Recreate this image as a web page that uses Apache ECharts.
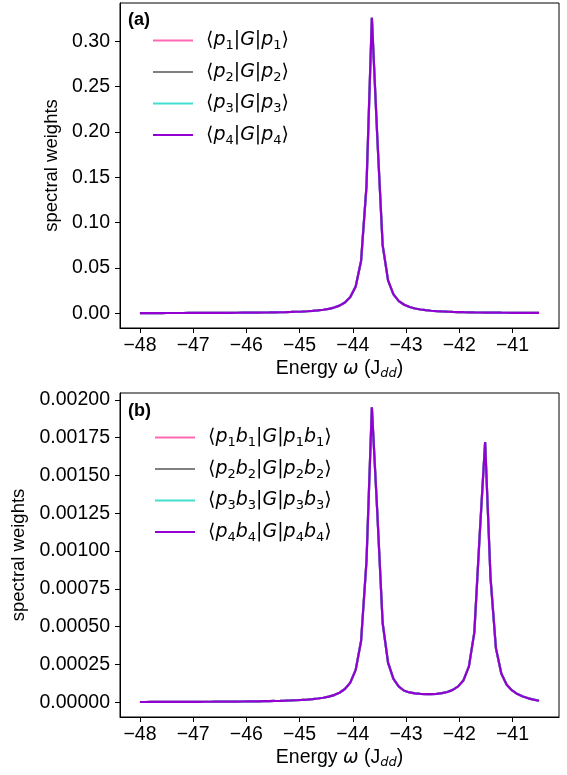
<!DOCTYPE html>
<html>
<head>
<meta charset="utf-8">
<script src="https://cdn.jsdelivr.net/npm/echarts@6/dist/echarts.min.js"></script>
<style>
html, body { margin: 0; padding: 0; background: #fff; }
#main { width: 567px; height: 775px; }
</style>
</head>
<body>
<div id="main"></div>
<script>
// energy grid (J_dd)
var energy = [
  -48.0000, -47.8986, -47.7973, -47.6959, -47.5946, -47.4932, -47.3919, -47.2905, -47.1892, -47.0878,
  -46.9865, -46.8851, -46.7838, -46.6824, -46.5811, -46.4797, -46.3784, -46.2770, -46.1757, -46.0743,
  -45.9730, -45.8716, -45.7703, -45.6689, -45.5676, -45.4662, -45.3649, -45.2635, -45.1622, -45.0608,
  -44.9595, -44.8581, -44.7568, -44.6554, -44.5541, -44.4527, -44.3514, -44.2500, -44.1486, -44.0473,
  -43.9459, -43.8446, -43.7432, -43.6419, -43.5405, -43.4392, -43.3378, -43.2365, -43.1351, -43.0338,
  -42.9324, -42.8311, -42.7297, -42.6284, -42.5270, -42.4257, -42.3243, -42.2230, -42.1216, -42.0203,
  -41.9189, -41.8176, -41.7162, -41.6149, -41.5135, -41.4122, -41.3108, -41.2095, -41.1081, -41.0068,
  -40.9054, -40.8041, -40.7027, -40.6014, -40.5000
];
// panel (a): <p|G|p>
var weightsA = [
  0.000175, 0.000183, 0.000192, 0.000202, 0.000212, 0.000224, 0.000236, 0.000249, 0.000264, 0.000279,
  0.000296, 0.000315, 0.000336, 0.000358, 0.000383, 0.000411, 0.000441, 0.000476, 0.000514, 0.000558,
  0.000607, 0.000662, 0.000726, 0.000800, 0.000885, 0.000985, 0.00110, 0.00124, 0.00141, 0.00162,
  0.00187, 0.00219, 0.00260, 0.00313, 0.00383, 0.00482, 0.00623, 0.00836, 0.0118, 0.0178,
  0.0296, 0.0577, 0.140, 0.326, 0.195, 0.0752, 0.0362, 0.0208, 0.0134, 0.00932,
  0.00685, 0.00523, 0.00413, 0.00334, 0.00276, 0.00231, 0.00197, 0.00170, 0.00148, 0.00130,
  0.00115, 0.00102, 0.000917, 0.000827, 0.000750, 0.000683, 0.000624, 0.000573, 0.000528, 0.000488,
  0.000452, 0.000420, 0.000392, 0.000366, 0.000343
];
// panel (b): <pb|G|pb>
var weightsB = [
  0.00000177, 0.00000185, 0.00000193, 0.00000202, 0.00000211, 0.00000221, 0.00000232, 0.00000244, 0.00000256, 0.00000270,
  0.00000285, 0.00000301, 0.00000319, 0.00000338, 0.00000359, 0.00000383, 0.00000409, 0.00000437, 0.00000469, 0.00000505,
  0.00000545, 0.00000590, 0.00000642, 0.00000701, 0.00000768, 0.00000847, 0.00000939, 0.0000105, 0.0000118, 0.0000134,
  0.0000153, 0.0000177, 0.0000207, 0.0000247, 0.0000299, 0.0000371, 0.0000474, 0.0000628, 0.0000875, 0.000130,
  0.000214, 0.000405, 0.000931, 0.00195, 0.00126, 0.000524, 0.000262, 0.000155, 0.000104, 0.0000761,
  0.0000650, 0.0000590, 0.0000560, 0.0000540, 0.0000540, 0.0000560, 0.0000600, 0.0000680, 0.0000820, 0.000105,
  0.000146, 0.000237, 0.000462, 0.00111, 0.00172, 0.000824, 0.000358, 0.000190, 0.000116, 0.0000781,
  0.0000540, 0.0000380, 0.0000260, 0.0000170, 0.0000100
];
var xTicks = [-48, -47, -46, -45, -44, -43, -42, -41];
var yTicksA = [0, 0.05, 0.10, 0.15, 0.20, 0.25, 0.30];
var yTicksB = [0, 0.00025, 0.0005, 0.00075, 0.001, 0.00125, 0.0015, 0.00175, 0.002];
var namesA = ['p1', 'p2', 'p3', 'p4'];
var namesB = ['p1b1', 'p2b2', 'p3b3', 'p4b4'];
var colors = ['#ff69b4', '#808080', '#40e0d0', '#9400d3'];

var tickFont = 'Liberation Sans, Arial, sans-serif';

function pairs(ys) {
  return energy.map(function (x, i) { return [x, ys[i]]; });
}

function legendLabel(name) {
  var k = name.charAt(1);
  if (name.length > 2) {
    return '{t|⟨}{i|p}{s|' + k + '}{i|b}{s|' + k + '}{t||}{i|G}{t||}{i|p}{s|' + k + '}{i|b}{s|' + k + '}{t|⟩}';
  }
  return '{t|⟨}{i|p}{s|' + k + '}{t||}{i|G}{t||}{i|p}{s|' + k + '}{t|⟩}';
}

var legendRich = {
  t: { fontFamily: 'DejaVu Sans', fontSize: 19, lineHeight: 24, color: '#000' },
  i: { fontFamily: 'DejaVu Sans', fontStyle: 'italic', fontSize: 19, lineHeight: 24, color: '#000' },
  s: { fontFamily: 'DejaVu Sans', fontSize: 13, lineHeight: 11, verticalAlign: 'bottom', color: '#000' }
};

function xAxisFor(gi) {
  return {
    type: 'value', gridIndex: gi, min: -48.375, max: -40.125,
    name: '{n|Energy }{w|ω}{n| (J}{d|dd}{n|)}',
    nameLocation: 'middle', nameGap: 30,
    nameTextStyle: {
      rich: {
        n: { fontFamily: tickFont, fontSize: 19.5, lineHeight: 22, color: '#000' },
        w: { fontFamily: 'DejaVu Sans', fontStyle: 'italic', fontSize: 18.5, lineHeight: 22, color: '#000' },
        d: { fontFamily: 'DejaVu Sans', fontStyle: 'italic', fontSize: 13, lineHeight: 11, verticalAlign: 'bottom', color: '#000' }
      }
    },
    axisLine: { onZero: false, lineStyle: { color: '#000', width: 1 } },
    axisTick: { inside: false, length: 5, lineStyle: { color: '#000' }, customValues: xTicks },
    axisLabel: {
      fontFamily: tickFont, fontSize: 19.5, color: '#000', margin: 8,
      customValues: xTicks,
      formatter: function (v) { return String(v).replace('-', '\u2212'); }
    },
    splitLine: { show: false }
  };
}

function yAxisFor(gi, lo, hi, ticks, digits, gap) {
  return {
    type: 'value', gridIndex: gi, min: lo, max: hi,
    name: 'spectral weights', nameLocation: 'middle', nameGap: gap,
    nameTextStyle: { fontFamily: tickFont, fontSize: 18.5, color: '#000' },
    axisLine: { show: true, onZero: false, lineStyle: { color: '#000', width: 1 } },
    axisTick: { show: true, inside: false, length: 5, lineStyle: { color: '#000' }, customValues: ticks },
    axisLabel: {
      fontFamily: tickFont, fontSize: 19.5, color: '#000', margin: 10,
      customValues: ticks,
      formatter: function (v) { return v.toFixed(digits); }
    },
    splitLine: { show: false }
  };
}

var series = [];
namesA.forEach(function (n, k) {
  series.push({
    name: n, type: 'line', xAxisIndex: 0, yAxisIndex: 0,
    data: pairs(weightsA), showSymbol: false, symbol: 'none',
    lineStyle: { color: colors[k], width: 2.2 }, itemStyle: { color: colors[k] }
  });
});
namesB.forEach(function (n, k) {
  series.push({
    name: n, type: 'line', xAxisIndex: 1, yAxisIndex: 1,
    data: pairs(weightsB), showSymbol: false, symbol: 'none',
    lineStyle: { color: colors[k], width: 2.2 }, itemStyle: { color: colors[k] }
  });
});

var option = {
  animation: false,
  backgroundColor: '#fff',
  title: [
    { text: '(a)', left: 123, top: 6, textStyle: { fontFamily: tickFont, fontWeight: 'bold', fontSize: 18, color: '#000' } },
    { text: '(b)', left: 123, top: 397, textStyle: { fontFamily: tickFont, fontWeight: 'bold', fontSize: 18, color: '#000' } }
  ],
  grid: [
    { left: 120, right: 8, top: 3, height: 325, show: true, borderColor: '#000', borderWidth: 1 },
    { left: 120, right: 8, top: 393, height: 324, show: true, borderColor: '#000', borderWidth: 1 }
  ],
  legend: [
    {
      data: namesA, orient: 'vertical', left: 148, top: 26, itemGap: 10,
      icon: 'rect', itemWidth: 40, itemHeight: 2,
      textStyle: { padding: [0, 0, 0, 8], rich: legendRich },
      formatter: legendLabel
    },
    {
      data: namesB, orient: 'vertical', left: 150, top: 423, itemGap: 10,
      icon: 'rect', itemWidth: 40, itemHeight: 2,
      textStyle: { padding: [0, 0, 0, 8], rich: legendRich },
      formatter: legendLabel
    }
  ],
  xAxis: [xAxisFor(0), xAxisFor(1)],
  yAxis: [
    yAxisFor(0, -0.0163, 0.3423, yTicksA, 2, 52),
    yAxisFor(1, -0.0000975, 0.002045, yTicksB, 5, 85)
  ],
  series: series
};

var myChart = echarts.init(document.getElementById('main'));
myChart.setOption(option);
</script>
</body>
</html>
